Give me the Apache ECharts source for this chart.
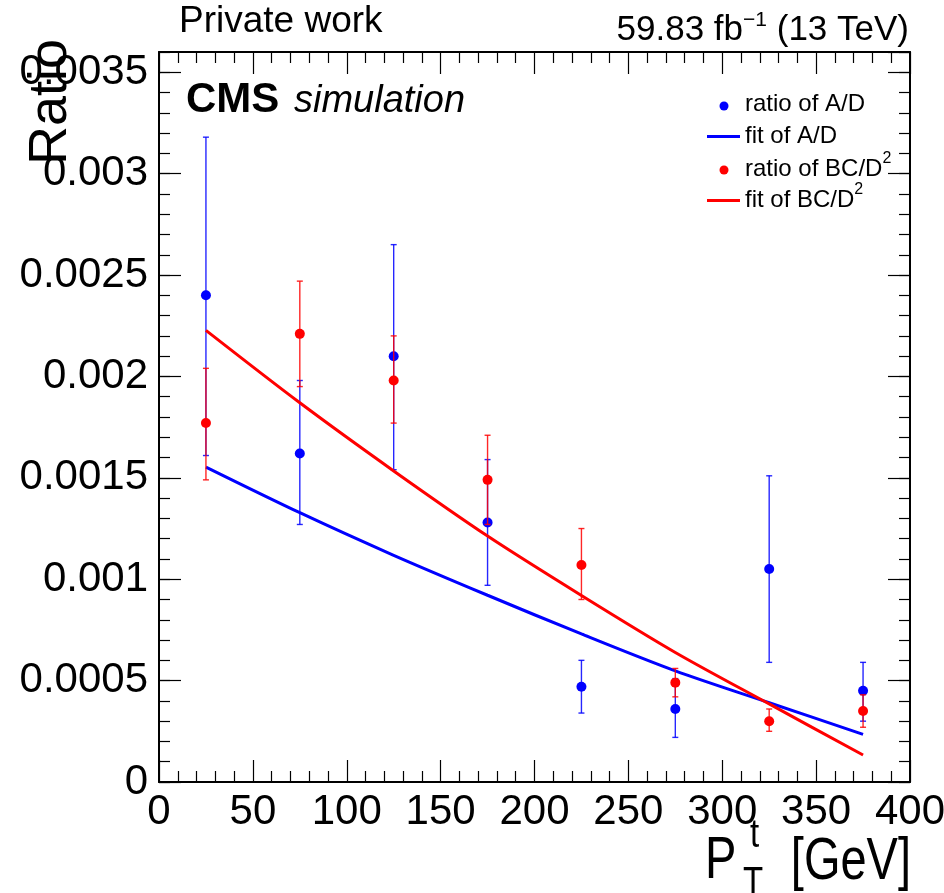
<!DOCTYPE html>
<html><head><meta charset="utf-8">
<script src="https://cdn.jsdelivr.net/npm/echarts@6/dist/echarts.min.js"></script>
<style>html,body{margin:0;padding:0;background:#fff}#c{width:944px;height:893px}</style>
</head><body><div id="c"></div>
<script>
// ---- data ----
const ptBins = [25, 75, 125, 175, 225, 275, 325, 375];
const ratioAD     = [0.00240, 0.00162, 0.00210, 0.00128, 0.00047, 0.00036, 0.00105, 0.00045];
const ratioADLow  = [0.00161, 0.00127, 0.00154, 0.00097, 0.00034, 0.00022, 0.00059, 0.00030];
const ratioADHigh = [0.00318, 0.00198, 0.00265, 0.00159, 0.00060, 0.00051, 0.00151, 0.00059];
const ratioBC     = [0.00177, 0.00221, 0.00198, 0.00149, 0.00107, 0.00049, 0.00030, 0.00035];
const ratioBCLow  = [0.00149, 0.00195, 0.00177, 0.00127, 0.00090, 0.00042, 0.00025, 0.00027];
const ratioBCHigh = [0.00204, 0.00247, 0.00220, 0.00171, 0.00125, 0.00056, 0.00036, 0.00043];
const fitAD = [0.001553, 0.001328, 0.001118, 0.000921, 0.000730, 0.000548, 0.000391, 0.000235];
const fitBC = [0.002227, 0.001870, 0.001534, 0.001213, 0.000920, 0.000639, 0.000385, 0.000133];
const xTicks = [0, 50, 100, 150, 200, 250, 300, 350, 400];
const yTicks = ['0', '0.0005', '0.001', '0.0015', '0.002', '0.0025', '0.003', '0.0035'];

const FONT = 'Liberation Sans, Arial, Helvetica, sans-serif';
const BLUE = '#0000ff', RED = '#ff0000';

function errRender(color) {
  return function (params, api) {
    const x = api.value(0), lo = api.value(2), hi = api.value(3);
    const a = api.coord([x, lo]), b = api.coord([x, hi]);
    const w = 3;
    const st = { stroke: color, lineWidth: 1.4, opacity: 0.85 };
    return { type: 'group', children: [
      { type: 'line', shape: { x1: a[0], y1: a[1], x2: b[0], y2: b[1] }, style: st },
      { type: 'line', shape: { x1: a[0] - w, y1: a[1], x2: a[0] + w, y2: a[1] }, style: st },
      { type: 'line', shape: { x1: b[0] - w, y1: b[1], x2: b[0] + w, y2: b[1] }, style: st }
    ]};
  };
}

const chart = echarts.init(document.getElementById('c'), null, { renderer: 'canvas' });
const blk = { color: '#000', width: 1.2 };
function xAx(pos, labels) {
  return {
    type: 'value', position: pos, min: xTicks[0], max: xTicks[xTicks.length - 1], interval: 50,
    axisLine: { show: true, onZero: false, lineStyle: { color: '#000', width: 2 } },
    axisTick: { show: true, inside: true, length: 22, lineStyle: blk },
    minorTick: { show: true, splitNumber: 5, length: 11, lineStyle: blk },
    splitLine: { show: false }, minorSplitLine: { show: false },
    axisLabel: { show: labels, fontSize: 42, color: '#000', fontFamily: FONT, margin: 9, hideOverlap: false }
  };
}
function yAx(pos, interval, len, labels, line) {
  return {
    type: 'value', position: pos, min: 0, max: 0.0036, interval: interval,
    axisLine: { show: line, onZero: false, lineStyle: { color: '#000', width: 2 } },
    axisTick: { show: true, inside: true, length: len, lineStyle: blk },
    splitLine: { show: false },
    axisLabel: { show: labels, showMaxLabel: false, fontSize: 42, color: '#000', fontFamily: FONT, margin: 11,
      formatter: v => { const i = Math.round(v / 0.0005); return yTicks[i] !== undefined ? yTicks[i] : ''; } }
  };
}

const option = {
  animation: false,
  backgroundColor: '#fff',
  textStyle: { fontFamily: FONT },
  grid: { left: 159, right: 34, top: 52, bottom: 111, containLabel: false, outerBoundsMode: 'none' },
  xAxis: [xAx('bottom', true), xAx('top', false)],
  yAxis: [yAx('left', 0.0005, 22, true, true), yAx('left', 0.0001, 11, false, false),
          yAx('right', 0.0005, 22, false, true), yAx('right', 0.0001, 11, false, false)],
  series: [
    { type: 'custom', name: 'errAD', renderItem: errRender(BLUE), xAxisIndex: 0, yAxisIndex: 0,
      data: ptBins.map((x, i) => [x, ratioAD[i], ratioADLow[i], ratioADHigh[i]]), z: 2 },
    { type: 'scatter', name: 'ratio of A/D', data: ptBins.map((x, i) => [x, ratioAD[i]]),
      symbolSize: 10, itemStyle: { color: BLUE, opacity: 1 }, z: 3 },
    { type: 'line', name: 'fit of A/D', data: ptBins.map((x, i) => [x, fitAD[i]]), smooth: 0.3,
      showSymbol: false, lineStyle: { color: BLUE, width: 3 }, z: 4 },
    { type: 'custom', name: 'errBC', renderItem: errRender(RED), xAxisIndex: 0, yAxisIndex: 0,
      data: ptBins.map((x, i) => [x, ratioBC[i], ratioBCLow[i], ratioBCHigh[i]]), z: 5 },
    { type: 'scatter', name: 'ratio of BC/D2', data: ptBins.map((x, i) => [x, ratioBC[i]]),
      symbolSize: 10, itemStyle: { color: RED, opacity: 1 }, z: 6 },
    { type: 'line', name: 'fit of BC/D2', data: ptBins.map((x, i) => [x, fitBC[i]]), smooth: 0.3,
      showSymbol: false, lineStyle: { color: RED, width: 3 }, z: 7 }
  ],
  graphic: [
    { type: 'text', x: 179, y: 22, style: { text: 'Private work', fontSize: 37, fontFamily: FONT, fill: '#000', align: 'left', verticalAlign: 'middle' } },
    { type: 'text', x: 909, y: 29, style: {
        text: '{a|59.83 fb}{s|−1}{a| (13 TeV)}', align: 'right', verticalAlign: 'middle', fill: '#000',
        rich: { a: { fontSize: 35, fontFamily: FONT, verticalAlign: 'bottom', lineHeight: 38 },
                s: { fontSize: 21, fontFamily: FONT, verticalAlign: 'top' } } } },
    { type: 'text', x: 186, y: 100, style: { text: 'CMS', fontSize: 42, fontWeight: 'bold', fontFamily: FONT, fill: '#000', align: 'left', verticalAlign: 'middle' } },
    { type: 'text', x: 294, y: 101, style: { text: 'simulation', fontSize: 38, fontStyle: 'italic', fontFamily: FONT, fill: '#000', align: 'left', verticalAlign: 'middle' } },
    { type: 'text', x: 51, y: 102, rotation: Math.PI / 2, style: { text: 'Ratio', fontSize: 54, fontFamily: FONT, fill: '#000', align: 'center', verticalAlign: 'middle' } },
    // x axis title  P_T^t [GeV]
    { type: 'text', x: 705, y: 862, scaleY: 1.25, style: { text: 'P', fontSize: 47, fontFamily: FONT, fill: '#000', align: 'left', verticalAlign: 'middle' } },
    { type: 'text', x: 750, y: 836, scaleY: 1.25, style: { text: 't', fontSize: 33, fontFamily: FONT, fill: '#000', align: 'left', verticalAlign: 'middle' } },
    { type: 'text', x: 743, y: 884, scaleY: 1.25, style: { text: 'T', fontSize: 33, fontFamily: FONT, fill: '#000', align: 'left', verticalAlign: 'middle' } },
    { type: 'text', x: 911, y: 863, scaleY: 1.25, style: { text: '[GeV]', fontSize: 47, fontFamily: FONT, fill: '#000', align: 'right', verticalAlign: 'middle' } },
    // legend
    { type: 'circle', shape: { cx: 724, cy: 106, r: 4.5 }, style: { fill: BLUE } },
    { type: 'line', shape: { x1: 707, y1: 136.5, x2: 740, y2: 136.5 }, style: { stroke: BLUE, lineWidth: 3 } },
    { type: 'circle', shape: { cx: 724, cy: 170, r: 4.5 }, style: { fill: RED } },
    { type: 'line', shape: { x1: 707, y1: 200.5, x2: 740, y2: 200.5 }, style: { stroke: RED, lineWidth: 3 } },
    { type: 'text', x: 745, y: 104.5, style: { text: 'ratio of A/D', fontSize: 24, fontFamily: FONT, fill: '#000', align: 'left', verticalAlign: 'middle' } },
    { type: 'text', x: 745, y: 136, style: { text: 'fit of A/D', fontSize: 24, fontFamily: FONT, fill: '#000', align: 'left', verticalAlign: 'middle' } },
    { type: 'text', x: 745, y: 166, style: { text: '{a|ratio of BC/D}{s|2}', align: 'left', verticalAlign: 'middle', fill: '#000',
        rich: { a: { fontSize: 24, fontFamily: FONT, verticalAlign: 'bottom', lineHeight: 30 }, s: { fontSize: 16, fontFamily: FONT, verticalAlign: 'top' } } } },
    { type: 'text', x: 745, y: 197, style: { text: '{a|fit of BC/D}{s|2}', align: 'left', verticalAlign: 'middle', fill: '#000',
        rich: { a: { fontSize: 24, fontFamily: FONT, verticalAlign: 'bottom', lineHeight: 30 }, s: { fontSize: 16, fontFamily: FONT, verticalAlign: 'top' } } } }
  ]
};
chart.setOption(option);
</script>
</body></html>
